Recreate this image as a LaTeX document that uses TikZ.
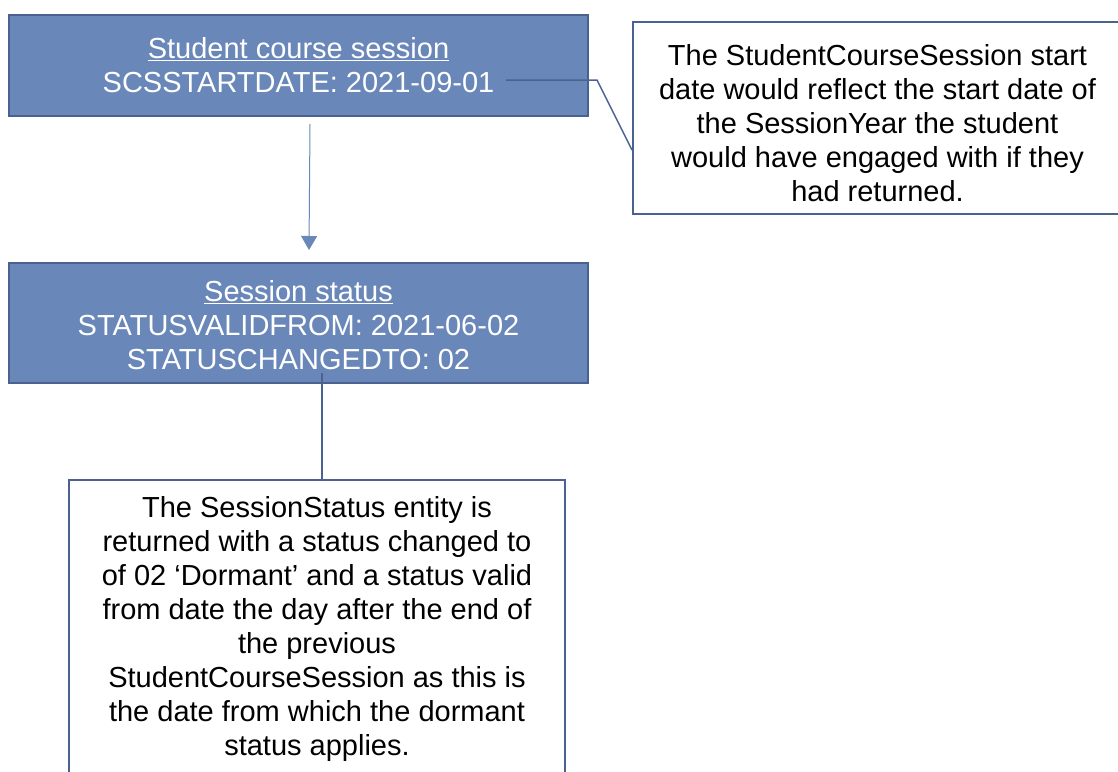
\documentclass[tikz,border=0pt]{standalone}
\usepackage{fontspec}
\setmainfont{Liberation Sans}
\usetikzlibrary{arrows.meta}
\definecolor{boxfill}{HTML}{6A87B9}
\definecolor{boxedge}{HTML}{4B6290}
\definecolor{arrowc}{HTML}{6A87B9}
\tikzset{
  txt/.style={font=\fontsize{29}{34}\selectfont, align=center},
  entity/.style={txt, draw=boxedge, fill=boxfill, line width=2pt, text=white, inner sep=0pt},
  note/.style={txt, draw=boxedge, fill=white, line width=2pt, text=black, inner sep=0pt},
  flow/.style={draw=arrowc, line width=1pt, -{Triangle[width=16pt,length=14pt]}},
  link/.style={draw=boxedge, line width=2pt},
  thinlink/.style={draw=boxedge, line width=1.5pt}
}
\begin{document}
\begin{tikzpicture}[x=1pt,y=-1pt]
\useasboundingbox (0,0) rectangle (1118,771);
\node[entity, minimum width=579pt, minimum height=101pt] (scs) at (298.5,65.5)
  {\underline{Student course session}\\SCSSTARTDATE: 2021-09-01};
\node[entity, minimum width=579pt, minimum height=120pt] (ss) at (298.5,323)
  {\rule{0pt}{25pt}\underline{Session status}\\STATUSVALIDFROM: 2021-06-02\\STATUSCHANGEDTO: 02};
\node[note, minimum width=489pt, minimum height=192pt] (c1) at (877.5,118)
  {\rule{0pt}{31pt}The StudentCourseSession start\\date would reflect the start date of\\the SessionYear the student\\would have engaged with if they\\had returned.};
\node[note, minimum width=496pt, minimum height=293pt] (c2) at (317,626.5)
  {\rule{0pt}{25pt}The SessionStatus entity is\\returned with a status changed to\\of 02 ‘Dormant’ and a status valid\\from date the day after the end of\\the previous\\StudentCourseSession as this is\\the date from which the dormant\\status applies.};
\coordinate (bend) at (597,80);
\coordinate (drop) at ([shift={(23.5,-11)}]ss.south);
\draw[flow] ([shift={(11.5,7)}]scs.south) -- ([shift={(10.5,-12)}]ss.north);
\draw[thinlink] ([shift={(207.5,14.5)}]scs.center) -- (bend) -- ([shift={(0,32)}]c1.west);
\draw[link] (drop) -- (drop |- c2.north);
\end{tikzpicture}
\end{document}
